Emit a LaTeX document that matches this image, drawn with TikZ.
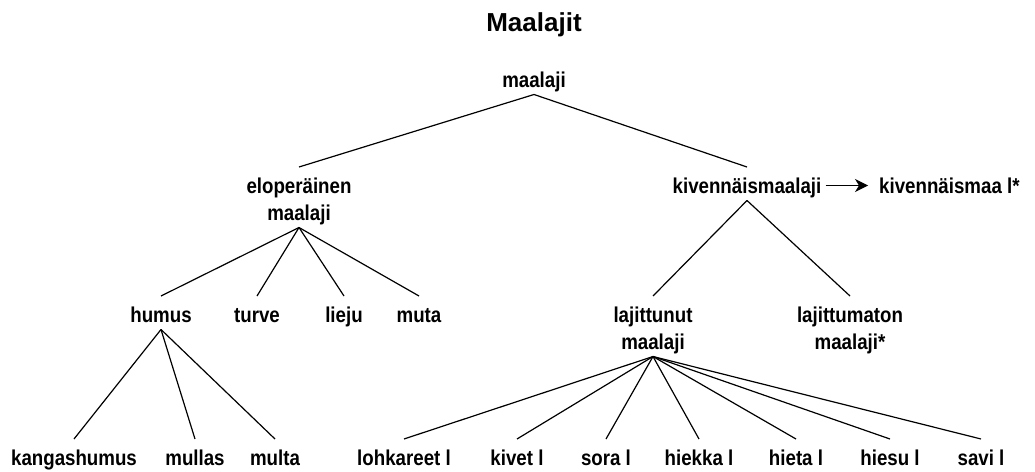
\documentclass[tikz,border=0pt]{standalone}
\usepackage{fontspec}
\setmainfont{Liberation Sans}[FakeStretch=0.87]
\newfontfamily\ttlfont{Liberation Sans}
\usetikzlibrary{arrows.meta}
\newcommand{\mkTwo}[2]{\begin{tabular}[b]{@{}c@{}}#1\\#2\end{tabular}}
\begin{document}
\begin{tikzpicture}[x=1pt,y=-1pt,
  lbl/.style={inner sep=0pt,anchor=base,font=\bfseries\fontsize{21.5}{27}\selectfont},
  ttl/.style={inner sep=0pt,anchor=base,font=\ttlfont\bfseries\fontsize{26}{30}\selectfont},
  edge/.style={line width=1.2pt,black}]
\useasboundingbox (0,0) rectangle (1035,471);
\renewcommand{\arraystretch}{1}
\node[ttl] (title) at (534,31) {Maalajit};
\node[lbl] (root) at (534,87) {maalaji};
\node[lbl] (elo) at (299,220) {\mkTwo{eloperäinen}{maalaji}};
\node[lbl] (kiv) at (747,193) {kivennäismaalaji};
\node[lbl,anchor=base west] (km) at (879,193) {kivennäismaa l*};
\node[lbl] (humus) at (161,322) {humus};
\node[lbl] (turve) at (257,322) {turve};
\node[lbl] (lieju) at (344,322) {lieju};
\node[lbl] (muta) at (419,322) {muta};
\node[lbl] (lajt) at (653,349) {\mkTwo{lajittunut}{maalaji}};
\node[lbl] (lajm) at (850,349) {\mkTwo{lajittumaton}{maalaji*}};
\node[lbl] (kh) at (74,465) {kangashumus};
\node[lbl] (mullas) at (195,465) {mullas};
\node[lbl] (multa) at (275,465) {multa};
\node[lbl] (lohk) at (404,465) {lohkareet l};
\node[lbl] (kivet) at (517,465) {kivet l};
\node[lbl] (sora) at (606,465) {sora l};
\node[lbl] (hiekka) at (699,465) {hiekka l};
\node[lbl] (hieta) at (796,465) {hieta l};
\node[lbl] (hiesu) at (890,465) {hiesu l};
\node[lbl] (savi) at (981,465) {savi l};
% edges: parent bottom = base + 7.5 ; child top = first baseline - 26
\draw[edge] ([yshift=-7.5pt]root.base) -- ([yshift=53pt]elo.base);
\draw[edge] ([yshift=-7.5pt]root.base) -- ([yshift=26pt]kiv.base);
\foreach \c in {humus,turve,lieju,muta}
  \draw[edge] ([yshift=-7.5pt]elo.base) -- ([yshift=26pt]\c.base);
\draw[edge] ([yshift=-7.5pt]kiv.base) -- ([yshift=53pt]lajt.base);
\draw[edge] ([yshift=-7.5pt]kiv.base) -- ([yshift=53pt]lajm.base);
\foreach \c in {kh,mullas,multa}
  \draw[edge] ([yshift=-7.5pt]humus.base) -- ([yshift=26pt]\c.base);
\foreach \c in {lohk,kivet,sora,hiekka,hieta,hiesu,savi}
  \draw[edge] ([yshift=-7.5pt]lajt.base) -- ([yshift=26pt]\c.base);
\draw[edge,-{Stealth[length=13pt,width=13pt,inset=4pt]},shorten <=4pt,shorten >=11pt]
  ([yshift=7.5pt]kiv.base east) -- ([yshift=7.5pt]km.base west);
\end{tikzpicture}
\end{document}
